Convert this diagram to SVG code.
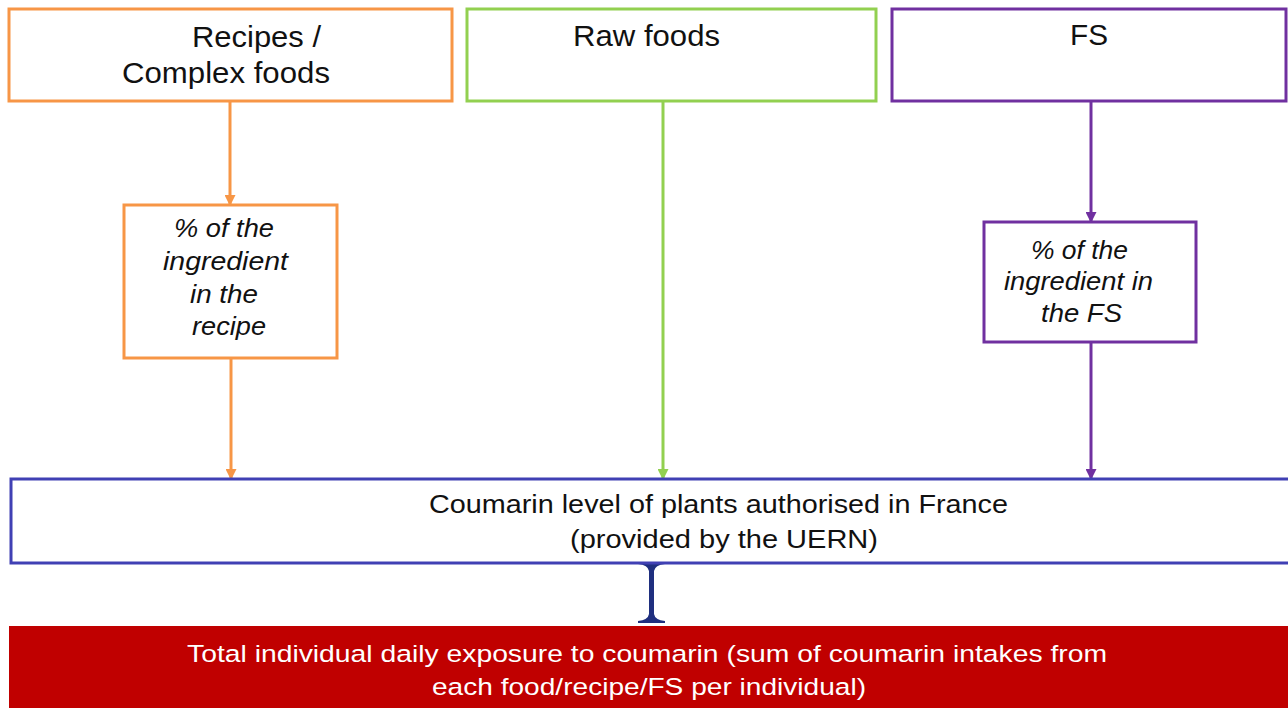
<svg xmlns="http://www.w3.org/2000/svg" width="1288" height="708" viewBox="0 0 1288 708">
<defs>
<style>
.t{font-family:"Liberation Sans",Arial,sans-serif;fill:#111;}
.top{font-size:30px;}
.it{font-size:25px;font-style:italic;}
.mid{font-size:25px;}
.red{font-size:24.5px;fill:#fff;}
.box{fill:#fff;stroke-width:3;}
</style>
<marker id="aO" markerWidth="11" markerHeight="11" refX="10" refY="5.5" orient="auto" markerUnits="userSpaceOnUse"><path d="M0,0 L11,5.5 L0,11 Z" fill="#f79646"/></marker>
<marker id="aG" markerWidth="11" markerHeight="11" refX="10" refY="5.5" orient="auto" markerUnits="userSpaceOnUse"><path d="M0,0 L11,5.5 L0,11 Z" fill="#92d050"/></marker>
<marker id="aP" markerWidth="11" markerHeight="11" refX="10" refY="5.5" orient="auto" markerUnits="userSpaceOnUse"><path d="M0,0 L11,5.5 L0,11 Z" fill="#7030a0"/></marker>
</defs>
<rect width="1288" height="708" fill="#fff"/>
<g id="connectors">
<line x1="230" y1="102" x2="230" y2="205" stroke="#f79646" stroke-width="3" marker-end="url(#aO)"/>
<line x1="231" y1="359" x2="231" y2="479" stroke="#f79646" stroke-width="3" marker-end="url(#aO)"/>
<line x1="663" y1="102" x2="663" y2="479" stroke="#92d050" stroke-width="3" marker-end="url(#aG)"/>
<line x1="1091" y1="102" x2="1091" y2="222" stroke="#7030a0" stroke-width="3" marker-end="url(#aP)"/>
<line x1="1091" y1="343" x2="1091" y2="479" stroke="#7030a0" stroke-width="3" marker-end="url(#aP)"/>
<path d="M638,562 L665,562 L665,564 Q655,565 654,571 L654,614 Q655,620 665,621 L665,623 L638,623 L638,621 Q648,620 649,614 L649,571 Q648,565 638,564 Z" fill="#1f2f7f"/>
</g>
<g id="recipes">
<rect class="box" x="9" y="9" width="443" height="92" stroke="#f79646"/>
<text class="t top" x="192" y="47" textLength="129" lengthAdjust="spacingAndGlyphs">Recipes /</text>
<text class="t top" x="122" y="83" textLength="208" lengthAdjust="spacingAndGlyphs">Complex foods</text>
</g>
<g id="rawfoods">
<rect class="box" x="467" y="9" width="409" height="92" stroke="#92d050"/>
<text class="t top" x="573" y="46" textLength="147" lengthAdjust="spacingAndGlyphs">Raw foods</text>
</g>
<g id="fs">
<rect class="box" x="892" y="9" width="394" height="92" stroke="#7030a0"/>
<text class="t top" x="1070" y="45" textLength="38" lengthAdjust="spacingAndGlyphs">FS</text>
</g>
<g id="pct-recipe">
<rect class="box" x="124" y="205" width="213" height="153" stroke="#f79646"/>
<text class="t it" x="174" y="237" textLength="100" lengthAdjust="spacingAndGlyphs">% of the</text>
<text class="t it" x="163" y="270" textLength="125" lengthAdjust="spacingAndGlyphs">ingredient</text>
<text class="t it" x="190" y="303" textLength="68" lengthAdjust="spacingAndGlyphs">in the</text>
<text class="t it" x="192" y="335" textLength="74" lengthAdjust="spacingAndGlyphs">recipe</text>
</g>
<g id="pct-fs">
<rect class="box" x="984" y="222" width="212" height="120" stroke="#7030a0"/>
<text class="t it" x="1031" y="259" textLength="97" lengthAdjust="spacingAndGlyphs">% of the</text>
<text class="t it" x="1004" y="290" textLength="149" lengthAdjust="spacingAndGlyphs">ingredient in</text>
<text class="t it" x="1041" y="322" textLength="81" lengthAdjust="spacingAndGlyphs">the FS</text>
</g>
<g id="coumarin-level">
<rect class="box" x="11" y="479" width="1280" height="84" stroke="#4040b4"/>
<text class="t mid" x="429" y="513" textLength="579" lengthAdjust="spacingAndGlyphs">Coumarin level of plants authorised in France</text>
<text class="t mid" x="570" y="548" textLength="308" lengthAdjust="spacingAndGlyphs">(provided by the UERN)</text>
</g>
<g id="total">
<rect x="9" y="626" width="1279" height="82" fill="#c00000"/>
<text class="t red" x="187" y="662" textLength="920" lengthAdjust="spacingAndGlyphs">Total individual daily exposure to coumarin (sum of coumarin intakes from</text>
<text class="t red" x="432" y="695" textLength="434" lengthAdjust="spacingAndGlyphs">each food/recipe/FS per individual)</text>
</g>
</svg>
